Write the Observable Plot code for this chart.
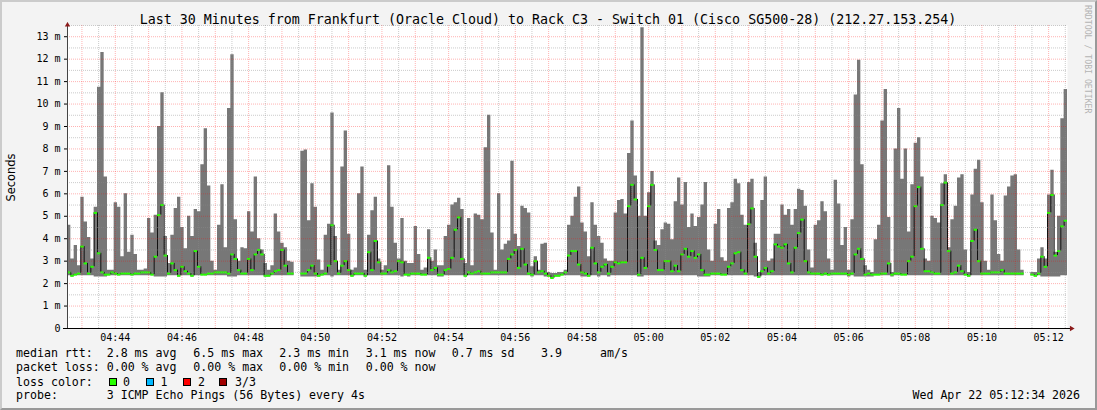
<!DOCTYPE html>
<html><head><meta charset="utf-8">
<script src="https://cdn.jsdelivr.net/npm/d3@7"></script>
<script src="https://cdn.jsdelivr.net/npm/@observablehq/plot@0.6"></script>
<style>
html,body{margin:0;padding:0;background:#f3f3f3;}
#wrap{position:relative;width:1097px;height:410px;background:#f3f3f3;overflow:hidden;}
#wrap svg{position:absolute;left:0;top:0;}
#frame{position:absolute;left:0;top:0;width:1097px;height:410px;box-sizing:border-box;border-style:solid;border-width:2px;border-color:#cbcbcb #999 #999 #cbcbcb;pointer-events:none;}
</style></head><body>
<div id="wrap"><div id="frame"></div></div>
<script>
// ---- text ----
const titleText = "Last 30 Minutes from Frankfurt (Oracle Cloud) to Rack C3 - Switch 01 (Cisco SG500-28) (212.27.153.254)";
const yAxisLabel = "Seconds";
const watermark = "RRDTOOL / TOBI OETIKER";
const legendLabels = ["median rtt:", "packet loss:", "loss color:", "probe:"];
const rttStats = ["2.8 ms avg", "6.5 ms max", "2.3 ms min", "3.1 ms now", "0.7 ms sd", "3.9", "am/s"];
const lossStats = ["0.00 % avg", "0.00 % max", "0.00 % min", "0.00 % now"];
const lossNames = ["0", "1", "2", "3/3"];
const lossColors = ["#26ff00", "#00b8ff", "#ff0000", "#a00000"];
const probeText = "3 ICMP Echo Pings (56 Bytes) every 4s";
const stampText = "Wed Apr 22 05:12:34 2026";
const yTickValues = [0,1,2,3,4,5,6,7,8,9,10,11,12,13];

// ---- data: RTT in ms, one sample every 6 s from 04:42:34 (UTC) ----
const rttMax1 = [4.6,3.1,3.7,2.8,5.85,4.75,4.05,3.1,5.4,10.75, 12.3,6.75,2.6,2.6,5.6,5.4,3.2,6.0,3.4,4.15, 3.3,2.6,2.6,2.65,4.9,4.25,5.05,9.0,10.5,4.1, 2.9,4.15,5.35,5.85,4.5,3.55,5.0,4.1,5.3,5.2, 7.3,8.9,6.35,3.0,2.6,4.6,6.4,3.6,9.8,12.2, 4.85,3.0,3.6,3.55,5.2,4.3,6.75,4.0,3.5,2.9];
const rttMed1 = [2.5,2.35,2.4,2.45,3.65,2.9,2.45,2.75,5.15,3.35, 2.5,2.4,2.4,2.5,2.45,2.4,2.45,2.45,2.45,2.4, 2.45,2.45,2.5,2.5,2.5,2.4,3.2,5.05,5.5,3.25, 2.45,2.9,2.6,2.35,2.75,2.55,2.45,2.35,3.45,2.75, 2.4,2.4,2.45,2.45,2.5,2.5,2.5,2.5,2.45,3.3, 3.1,2.6,2.45,2.45,3.1,2.6,3.3,3.5,3.3,2.35];
const rttMin1 = [2.35,2.3,2.35,2.35,2.35,2.35,2.35,2.35,2.3,2.3, 2.3,2.3,2.35,2.35,2.35,2.35,2.35,2.35,2.35,2.35, 2.35,2.35,2.35,2.35,2.35,2.35,2.3,2.3,2.3,2.3, 2.35,2.35,2.35,2.3,2.35,2.35,2.35,2.3,2.35,2.35, 2.35,2.35,2.35,2.35,2.35,2.35,2.35,2.35,2.3,2.3, 2.3,2.35,2.35,2.35,2.35,2.35,2.35,2.35,2.35,2.3];

const rttMax2 = [2.6,2.8,5.1,4.3,3.8,3.6,3.0,2.95,null,null, 7.9,7.95,4.8,6.45,5.4,3.05,2.6,4.15,4.65,9.6, 4.1,2.6,7.2,8.8,4.2,2.6,2.7,6.0,7.2,2.6, 4.15,5.25,5.85,3.1,2.6,2.8,7.25,5.4,3.8,3.1, 4.9,3.0,2.9,2.9,4.55,3.3,2.6,2.7,4.4,3.0, 3.5,2.8,2.8,4.1,4.6,5.5,5.6,5.8,5.3,2.9];
const rttMed2 = [2.35,2.45,2.55,2.6,3.5,2.8,2.45,2.45,null,null, 2.45,2.45,2.6,2.8,2.45,2.35,2.4,2.45,2.8,4.6, 3.0,2.45,2.8,3.0,2.6,2.35,2.45,2.45,2.45,2.35, 3.4,2.6,3.9,2.95,2.45,2.45,2.6,2.5,2.55,3.0, 2.95,2.4,2.4,2.45,2.45,2.45,2.4,2.4,3.15,2.6, 2.7,2.4,2.4,2.6,2.65,3.15,4.4,4.95,3.1,2.35];
const rttMin2 = [2.3,2.35,2.35,2.35,2.35,2.35,2.35,2.35,null,null, 2.3,2.3,2.3,2.3,2.3,2.3,2.35,2.35,2.35,2.3, 2.35,2.35,2.35,2.35,2.35,2.3,2.35,2.35,2.35,2.3, 2.35,2.35,2.35,2.35,2.35,2.35,2.35,2.35,2.35,2.35, 2.3,2.35,2.3,2.35,2.35,2.35,2.35,2.35,2.35,2.35, 2.35,2.3,2.3,2.35,2.35,2.35,2.35,2.35,2.35,2.3];

const rttMax3 = [4.9,2.8,5.1,5.05,4.85,8.05,9.5,4.25,2.6,6.0, 3.5,3.75,3.9,7.45,4.2,3.65,5.45,5.35,5.15,2.75, 3.2,2.6,3.75,3.8,2.5,2.45,2.45,2.5,2.5,2.6, 4.6,5.0,5.85,6.3,4.7,4.3,3.2,5.6,4.6,4.1, 3.8,3.1,3.0,3.0,5.15,5.7,5.75,5.1,7.8,9.25, 6.8,5.0,13.4,5.0,6.05,7.0,3.9,3.7,4.4,4.7];
const rttMed3 = [2.5,2.45,2.5,2.55,2.45,2.45,2.45,2.5,2.5,2.5, 2.5,2.5,3.1,3.3,3.5,2.7,3.55,2.85,2.45,2.4, 3.0,2.5,2.55,2.45,2.35,2.25,2.35,2.35,2.4,2.5, 3.25,3.45,3.45,2.85,2.5,2.45,2.35,3.6,2.9,2.5, 2.75,2.85,2.45,2.75,2.95,2.9,2.95,2.95,5.45,6.4, 5.75,2.4,3.15,2.7,5.45,6.4,3.5,2.6,2.6,3.0];
const rttMin3 = [2.35,2.35,2.35,2.35,2.35,2.35,2.35,2.35,2.35,2.35, 2.35,2.35,2.35,2.35,2.35,2.35,2.35,2.35,2.35,2.3, 2.35,2.35,2.35,2.3,2.3,2.2,2.3,2.3,2.35,2.35, 2.35,2.35,2.35,2.35,2.3,2.3,2.3,2.35,2.35,2.3, 2.35,2.35,2.3,2.35,2.35,2.35,2.35,2.35,2.35,2.35, 2.35,2.3,2.3,2.35,2.35,2.35,2.35,2.35,2.35,2.35];

const rttMax4 = [4.65,3.95,5.65,6.7,5.5,6.5,4.5,5.1,4.55,4.95, 5.5,6.5,3.5,3.0,4.65,5.3,3.15,3.0,5.35,5.6, 6.65,6.45,5.05,4.6,6.5,6.65,3.8,2.5,5.7,6.75, 3.0,3.1,4.2,4.2,5.5,5.05,5.3,4.6,5.3,6.2, 6.15,5.45,3.5,2.7,4.6,4.8,5.65,5.2,3.1,2.6, 6.6,5.55,3.7,4.5,2.6,4.85,10.4,11.95,7.3,2.8];
const rttMed4 = [3.0,2.55,2.8,2.55,3.3,3.55,3.2,3.45,3.15,3.3, 2.6,2.4,2.4,2.45,2.45,2.45,2.4,2.4,2.75,2.9, 3.35,3.4,2.6,2.45,4.65,5.35,3.2,2.3,2.55,2.7, 2.45,2.55,3.75,3.65,3.6,3.75,2.9,2.5,3.6,4.25, 4.85,3.0,2.5,2.45,2.45,2.45,2.4,2.45,2.4,2.45, 2.45,2.45,2.45,2.45,2.4,2.45,3.3,3.55,3.1,2.4];
const rttMin4 = [2.35,2.35,2.35,2.35,2.35,2.35,2.35,2.35,2.35,2.3, 2.3,2.3,2.3,2.35,2.35,2.35,2.35,2.35,2.35,2.35, 2.35,2.35,2.35,2.35,2.35,2.35,2.3,2.25,2.35,2.35, 2.35,2.35,2.35,2.35,2.35,2.35,2.35,2.35,2.35,2.35, 2.35,2.35,2.35,2.35,2.35,2.35,2.35,2.35,2.35,2.35, 2.35,2.35,2.35,2.35,2.3,2.35,2.3,2.3,2.3,2.3];

const rttMax5 = [2.6,2.5,3.95,4.6,9.25,10.65,4.95,2.5,8.0,9.8, 6.65,8.0,4.3,6.4,8.25,8.5,6.75,3.1,3.0,5.0, 4.9,4.7,6.45,6.85,3.6,4.85,5.45,6.7,6.85,3.5, 2.5,5.95,7.1,7.5,5.6,3.0,2.6,5.95,4.8,3.3, 3.0,5.9,6.3,6.8,6.85,3.5,2.6,null,null,2.5, 2.5,3.1,3.6,3.1,5.95,7.05,3.4,5.0,9.35,10.65];
const rttMed5 = [2.45,2.4,2.4,2.4,2.45,2.45,2.9,2.4,2.45,2.45, 2.4,2.4,3.0,3.2,5.45,6.3,3.55,2.55,2.55,2.5, 2.45,2.45,5.5,6.5,3.45,2.45,2.5,2.8,2.55,2.4, 2.35,3.9,4.4,3.0,2.45,2.45,2.45,2.5,2.5,2.5, 2.6,2.45,2.45,2.45,2.45,2.45,2.45,null,null,2.4, 2.35,2.45,3.2,2.75,5.15,5.95,3.25,3.45,4.55,4.8];
const rttMin5 = [2.3,2.3,2.35,2.35,2.35,2.35,2.35,2.3,2.35,2.35, 2.35,2.35,2.35,2.35,2.35,2.35,2.35,2.35,2.35,2.35, 2.35,2.35,2.35,2.35,2.35,2.35,2.35,2.35,2.35,2.35, 2.3,2.35,2.35,2.35,2.35,2.35,2.35,2.35,2.35,2.35, 2.35,2.35,2.35,2.35,2.35,2.35,2.35,null,null,2.35, 2.3,2.35,2.3,2.3,2.3,2.3,2.3,2.3,2.35,2.35];

// ---- build table ----
const start = new Date(Date.UTC(2026, 3, 22, 4, 42, 34));
const end = new Date(+start + 1800e3);
const stepMs = 6000;
const hiAll = [...rttMax1, ...rttMax2, ...rttMax3, ...rttMax4, ...rttMax5];
const medAll = [...rttMed1, ...rttMed2, ...rttMed3, ...rttMed4, ...rttMed5];
const loAll = [...rttMin1, ...rttMin2, ...rttMin3, ...rttMin4, ...rttMin5];
const rows = hiAll.map((h, i) => ({
  t1: new Date(+start + i * stepMs), t2: new Date(+start + (i + 1) * stepMs),
  lo: loAll[i], med: medAll[i], hi: h
}));
const valid = rows.filter(d => d.hi != null);
// step-area points (continuous runs, broken at missing samples)
const smoke = [];
rows.forEach((d, i) => {
  if (d.hi == null) return;
  smoke.push({t: d.t1, lo: d.lo, hi: d.hi});
  const nx = rows[i + 1];
  if (!nx || nx.hi == null) {
    smoke.push({t: d.t2, lo: d.lo, hi: d.hi});
    smoke.push({t: d.t2, lo: null, hi: null});
  }
});
const joins = [];
for (let i = 1; i < rows.length; i++) {
  if (rows[i].med != null && rows[i - 1].med != null) joins.push({t: rows[i].t1, a: rows[i - 1].med, b: rows[i].med});
}
const secPerPx = 1.8;
const minor30 = d3.utcSecond.every(30).range(start, end).filter(d => d.getUTCSeconds() !== 0);
const minutes = d3.utcMinute.range(start, end);
const labelTicks = d3.utcMinute.every(2).range(start, end);
const yMajor = yTickValues.slice(1);
const yMinor = yTickValues.map(v => v + 0.5);

const gridMinor = {stroke: "#8c8c8c", strokeOpacity: 0.45, strokeDasharray: "1,1"};
const gridMajor = {stroke: "#ff0000", strokeOpacity: 0.3, strokeDasharray: "1,1"};

const chart = Plot.plot({
  width: 1097, height: 410,
  marginLeft: 67, marginRight: 30, marginTop: 25, marginBottom: 82,
  style: {background: "transparent", fontFamily: "'DejaVu Sans Mono', monospace", fontSize: "10px", color: "#000", overflow: "visible"},
  x: {type: "utc", domain: [start, end], label: null},
  y: {domain: [0, 13.5], label: null},
  marks: [
    Plot.frame({fill: "#ffffff", stroke: "none"}),
    Plot.areaY(smoke, {x: "t", y1: "lo", y2: "hi", curve: "step-after", fill: "#777777"}),
    Plot.ruleX(joins, {x: "t", y1: "a", y2: "b", stroke: "#111111", strokeWidth: 1}),
    Plot.ruleY(valid, {y: "med", x1: "t1", x2: "t2", stroke: "#26ff00", strokeWidth: 2}),
    Plot.ruleY(yMinor, gridMinor),
    Plot.ruleX(minor30, gridMinor),
    Plot.ruleY(yMajor, gridMajor),
    Plot.ruleX(minutes, gridMajor),
    Plot.ruleY([0], {x1: new Date(+start - 4 * secPerPx * 1000), x2: new Date(+end + 3 * secPerPx * 1000), stroke: "#000"}),
    Plot.ruleX([start], {y1: 0, y2: 13.6, stroke: "#444"}),
    Plot.dot([{t: start, v: 13.52}], {x: "t", y: "v", symbol: "triangle", r: 2, fill: "#8b1a1a", stroke: "none"}),
    Plot.dot([{t: new Date(+end + 4 * secPerPx * 1000), v: 0}], {x: "t", y: "v", symbol: "triangle", r: 2, fill: "#8b1a1a", stroke: "none", rotate: 90}),
    Plot.axisY({ticks: yTickValues, tickSize: 3, tickPadding: 4, tickFormat: d => d === 0 ? "0" : `${d} m`, fontSize: 10, label: null}),
    Plot.axisX({ticks: labelTicks, tickSize: 0, tickPadding: 5.5, tickFormat: d3.utcFormat("%H:%M"), fontSize: 10, label: null})
  ]
});
document.getElementById("wrap").appendChild(chart);

// ---- overlay text ----
const mono = "'DejaVu Sans Mono', monospace";
const ov = d3.create("svg").attr("width", 1097).attr("height", 410)
  .style("font-family", mono).style("fill", "#000");
ov.append("text").attr("x", 548).attr("y", 24).attr("text-anchor", "middle")
  .style("font-size", "13.3px").text(titleText);
ov.append("text").attr("transform", "translate(15,177.5) rotate(-90)").attr("text-anchor", "middle")
  .style("font-family", "'DejaVu Sans', sans-serif").style("font-size", "11.4px").text(yAxisLabel);
ov.append("text").attr("transform", "translate(1084.5,5) rotate(90)").attr("text-anchor", "start")
  .style("font-size", "8.2px").style("fill", "#b4b4b4").text(watermark);

const lf = "11.6px";
const baseY = [357.3, 371.3, 385.5, 399.3];
const statX = [106.7, 193.3, 279.3, 365.7, 451.7, 541, 600];
legendLabels.forEach((t, i) => {
  ov.append("text").attr("x", 16).attr("y", baseY[i]).style("font-size", lf).text(t);
});
rttStats.forEach((t, i) => ov.append("text").attr("x", statX[i]).attr("y", baseY[0]).style("font-size", lf).text(t));
lossStats.forEach((t, i) => ov.append("text").attr("x", statX[i]).attr("y", baseY[1]).style("font-size", lf).text(t));
const boxX = [109.5, 146.5, 183.5, 219.5];
const boxLabelX = [123, 160.5, 198, 235];
lossNames.forEach((t, i) => {
  ov.append("rect").attr("x", boxX[i]).attr("y", 378.5).attr("width", 7).attr("height", 7)
    .attr("fill", lossColors[i]).attr("stroke", "#000").attr("stroke-width", 1);
  ov.append("text").attr("x", boxLabelX[i]).attr("y", baseY[2]).style("font-size", lf).text(t);
});
ov.append("text").attr("x", statX[0]).attr("y", baseY[3]).style("font-size", lf).text(probeText);
ov.append("text").attr("x", 1080).attr("y", baseY[3]).attr("text-anchor", "end").style("font-size", lf).text(stampText);
document.getElementById("wrap").appendChild(ov.node());
</script></body></html>
